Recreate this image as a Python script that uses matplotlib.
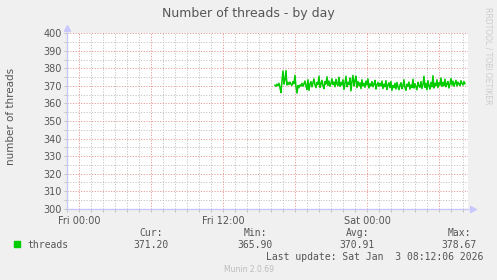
#!/usr/bin/env python
import numpy as np
import matplotlib
matplotlib.use('Agg')
import matplotlib.pyplot as plt
from matplotlib.ticker import MultipleLocator

###### INPUT DATA ##########
# hours since Fri 00:00, one sample every 5 minutes
start_hour = 16 + 20 / 60.0
step_hour = 5 / 60.0
threads = [
    370.4, 369.8, 371.0, 370.2, 371.5, 369.0, 366.2, 372.8, 378.5, 371.0,
    373.5, 378.7, 370.5, 372.0, 370.8, 372.2, 371.0, 370.3, 372.5, 371.2,
    376.0, 369.5, 365.9, 370.2, 369.0, 370.5,
    370.0, 371.5, 369.8, 371.2, 372.8, 370.0, 368.0, 373.5, 367.5, 371.0,
    372.5, 369.5, 371.8, 374.0, 370.5, 369.0, 372.0, 370.8, 375.5, 369.2,
    371.0, 373.2, 370.0, 368.5, 372.5, 371.0, 375.2, 370.2, 372.8, 369.8,
    371.5, 374.0, 370.8, 372.2, 369.5, 373.8, 371.0, 370.2, 375.0, 369.8,
    372.0, 370.5, 373.5, 368.0, 371.5, 375.5, 369.5, 372.0, 370.8, 374.5,
    367.2, 372.5, 376.0, 370.0, 373.0, 375.5, 369.0, 372.5, 370.2, 371.8,
    368.5, 373.5, 370.0, 371.5, 369.2, 372.8, 370.5, 374.0, 368.8, 371.2,
    370.0, 372.5, 369.5, 371.0, 373.2, 368.2, 370.5, 372.0, 369.8, 371.5,
    370.0, 372.8, 368.5, 371.0, 369.5, 373.0, 368.0, 370.5, 371.8, 369.0,
    372.5, 367.5, 370.2, 369.0, 371.5, 368.2, 372.0, 369.5, 367.8, 370.5,
    371.8, 368.5, 370.0, 373.5, 369.0, 367.5, 371.0, 369.8, 372.2, 368.2,
    370.5, 369.0, 373.8, 368.8, 371.2, 369.5, 367.8, 372.0, 370.0, 369.2,
    372.5, 368.5, 370.8, 375.5, 369.2, 371.5, 367.8, 373.0, 370.0, 368.2,
    372.0, 369.5, 375.8, 368.8, 371.5, 370.2, 373.5, 369.0, 371.8, 370.5,
    374.5, 369.8, 372.0, 370.2, 373.8, 369.5, 371.2, 372.5, 368.8, 371.0,
    374.2, 370.5, 372.8, 369.8, 371.5, 373.2, 370.0, 372.2, 371.0, 370.2,
    373.0, 371.5, 370.5, 372.5, 371.2,
]
xtick_pos = [0, 6, 12, 18, 24, 30]
xtick_labels = ['Fri 00:00', '', 'Fri 12:00', '', 'Sat 00:00', '']
ytick_pos = [300, 310, 320, 330, 340, 350, 360, 370, 380, 390, 400]
stat_names = ['Cur:', 'Min:', 'Avg:', 'Max:']
stat_values = ['371.20', '365.90', '370.91', '378.67']
########################

BG = '#f0f0f0'
AXIS = '#c8c8ff'
TXT = '#555555'
MONO = 'DejaVu Sans Mono'

fig = plt.figure(figsize=(4.97, 2.8), dpi=100, facecolor=BG)
ax = fig.add_axes([67 / 497.0, 1 - 208.7 / 280.0, 401 / 497.0, 175.4 / 280.0])
ax.set_facecolor('white')

hours = start_hour + step_hour * np.arange(len(threads))
ax.plot(hours, threads, color='#00cc00', lw=1.1, zorder=3)

ax.set_xlim(-1.0, 32.42)
ax.set_ylim(300, 400)

ax.set_xticks(xtick_pos)
ax.set_xticklabels(xtick_labels)
ax.xaxis.set_minor_locator(MultipleLocator(1))
ax.set_yticks(ytick_pos)
ax.set_yticklabels([str(v) for v in ytick_pos])
ax.yaxis.set_minor_locator(MultipleLocator(5))

ax.grid(which='minor', color='#c4c4c4', lw=0.7, linestyle=(0, (1.2, 1.6)))
ax.grid(which='major', color='#e89a9a', lw=0.7, linestyle=(0, (1.2, 1.6)))
ax.set_axisbelow(True)

ax.tick_params(which='both', length=2, width=0.6, color='#bbbbbb',
               labelsize=7, labelcolor=TXT, pad=2)
ax.tick_params(axis='x', which='major', pad=3)

for s in ['top', 'right']:
    ax.spines[s].set_visible(False)
for s in ['left', 'bottom']:
    ax.spines[s].set_color(AXIS)
    ax.spines[s].set_linewidth(1.0)

# axis arrows like rrdtool
ax.plot([0], [1.03], marker='^', ms=4, color=AXIS, transform=ax.transAxes, clip_on=False)
ax.plot([1.012], [0], marker='>', ms=4, color=AXIS, transform=ax.transAxes, clip_on=False)

fig.text(248 / 497.0, 1 - 13 / 280.0, 'Number of threads - by day',
         ha='center', va='center', fontsize=9, color=TXT)
fig.text(11 / 497.0, 1 - 116 / 280.0, 'number of threads', rotation=90,
         ha='center', va='center', fontsize=7.5, color=TXT)
fig.text(488 / 497.0, 1 - 56 / 280.0, 'RRDTOOL / TOBI OETIKER', rotation=270,
         ha='center', va='center', fontsize=5.5, color='#cccccc')

# legend block
def px(x, y):
    return x / 497.0, 1 - y / 280.0

stat_right = [169, 273, 375, 477]
for name, val, xr in zip(stat_names, stat_values, stat_right):
    fig.text(*px(xr - 6, 233), name, ha='right', va='center',
             fontsize=7, family=MONO, color=TXT)
    fig.text(*px(xr, 244.5), val, ha='right', va='center',
             fontsize=7, family=MONO, color=TXT)

fig.patches.append(plt.Rectangle(px(14, 247), 6 / 497.0, 6 / 280.0,
                                 transform=fig.transFigure, color='#00cc00'))
fig.text(*px(27, 244.5), 'threads', ha='left', va='center',
         fontsize=7, family=MONO, color=TXT)
fig.text(*px(483, 257), 'Last update: Sat Jan  3 08:12:06 2026', ha='right',
         va='center', fontsize=7, family=MONO, color=TXT)
fig.text(*px(249, 269.5), 'Munin 2.0.69', ha='center', va='center',
         fontsize=5.5, color='#bbbbbb')

fig.savefig('out.png', dpi=100, facecolor=BG)
